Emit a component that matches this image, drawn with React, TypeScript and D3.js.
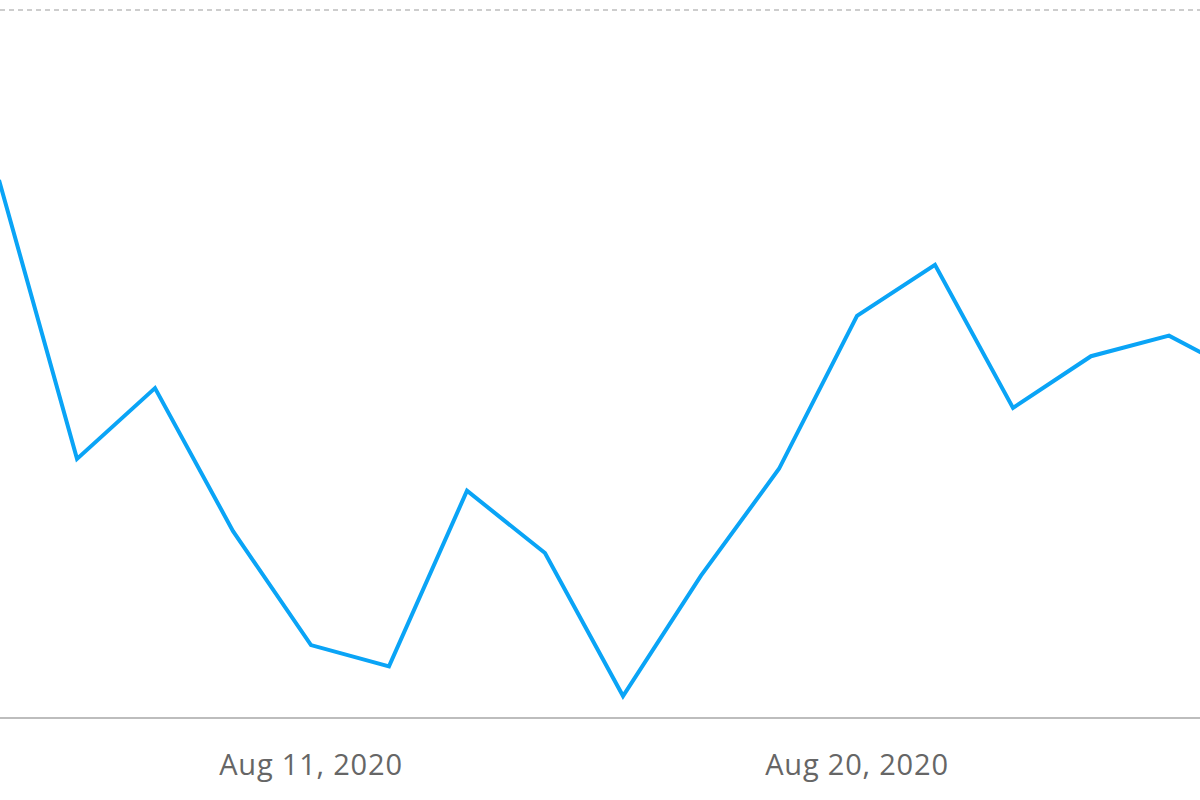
import { useEffect, useRef } from 'react'
import * as d3 from 'd3'

// samples roughly every 31 hours, Aug 5 .. Aug 26 2020 (UTC)
const TIMES = [
  '2020-08-05T20:34', '2020-08-07T03:26', '2020-08-08T10:17', '2020-08-09T17:09',
  '2020-08-11T00:00', '2020-08-12T06:51', '2020-08-13T13:43', '2020-08-14T20:34',
  '2020-08-16T03:26', '2020-08-17T10:17', '2020-08-18T17:09', '2020-08-20T00:00',
  '2020-08-21T06:51', '2020-08-22T13:43', '2020-08-23T20:34', '2020-08-25T03:26',
  '2020-08-26T10:17',
]
const VALUES = [76.0, 36.6, 46.6, 26.4, 10.3, 7.3, 32.1, 23.3, 3.1, 20.1, 35.2, 56.8, 64.0, 43.8, 51.1, 54.0, 48.2]
const TICKS = ['2020-08-11T00:00', '2020-08-20T00:00']
const GRID = [100]

export default function App() {
  const svgRef = useRef<SVGSVGElement>(null)

  useEffect(() => {
    if (!svgRef.current) return
    const W = 1200, H = 800
    const svg = d3.select(svgRef.current).attr('viewBox', `0 0 ${W} ${H}`)
    svg.selectAll('*').remove()

    const parse = d3.utcParse('%Y-%m-%dT%H:%M')
    const data = TIMES.map((t, i) => ({ date: parse(t)!, value: VALUES[i] }))

    const x = d3.scaleUtc()
      .domain([parse('2020-08-11T00:00')!, parse('2020-08-20T00:00')!])
      .range([311, 857])
    const y = d3.scaleLinear().domain([0, 100]).range([718, 10])

    // dashed gridline
    svg.append('g').selectAll('line').data(GRID).join('line')
      .attr('x1', 0).attr('x2', W)
      .attr('y1', d => y(d)).attr('y2', d => y(d))
      .attr('stroke', '#bdbdbd').attr('stroke-width', 1.3).attr('stroke-dasharray', '5,4')

    // baseline
    svg.append('line')
      .attr('x1', 0).attr('x2', W).attr('y1', y(0)).attr('y2', y(0))
      .attr('stroke', '#bdbdbd').attr('stroke-width', 2)

    // tick labels
    const fmt = d3.utcFormat('%b %-d, %Y')
    svg.append('g').selectAll('text').data(TICKS.map(t => parse(t)!)).join('text')
      .attr('x', d => x(d)).attr('y', 775)
      .attr('text-anchor', 'middle')
      .attr('fill', '#666').attr('font-size', 29)
      .attr('letter-spacing', 0.8)
      .attr('font-family', '"Open Sans", sans-serif')
      .text(d => fmt(d))

    const line = d3.line<{ date: Date; value: number }>()
      .x(d => x(d.date)).y(d => y(d.value))

    svg.append('path').datum(data)
      .attr('d', line)
      .attr('fill', 'none')
      .attr('stroke', '#0aa4f6')
      .attr('stroke-width', 4)
      .attr('stroke-linejoin', 'miter')
  }, [])

  return (
    <div style={{ position: 'fixed', left: 0, top: 0, width: 1200, height: 800, background: '#fff', overflow: 'hidden' }}>
      <svg ref={svgRef} width={1200} height={800} style={{ display: 'block' }} />
    </div>
  )
}
